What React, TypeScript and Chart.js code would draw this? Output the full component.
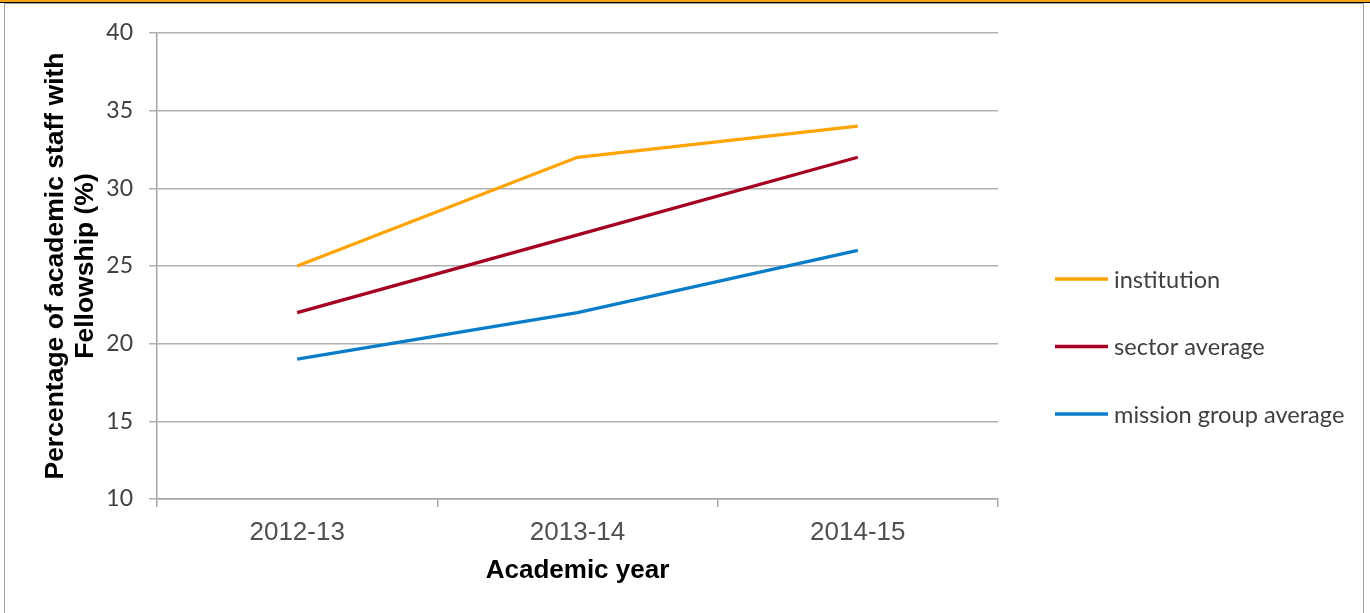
import React, { useEffect, useRef } from 'react';
import { Chart, registerables } from 'chart.js';

Chart.register(...registerables);

const categories = ['2012-13', '2013-14', '2014-15'];
const institution = [25, 32, 34];
const sectorAverage = [22, 27, 32];
const missionGroupAverage = [19, 22, 26];
const seriesLabels = ['institution', 'sector average', 'mission group average'];
const seriesColors = ['#FFA300', '#A50021', '#0A7DC8'];
const yTicks = [10, 15, 20, 25, 30, 35, 40];
const yTitle = ['Percentage of academic staff with', 'Fellowship (%)'];
const xTitle = 'Academic year';

const lineLegend = {
  id: 'lineLegend',
  afterDraw(chart: any, _args: any, opts: any) {
    const ctx = chart.ctx;
    ctx.save();
    chart.data.datasets.forEach((ds: any, i: number) => {
      const y = opts.top + i * opts.gap;
      ctx.strokeStyle = ds.borderColor;
      ctx.lineWidth = opts.lineWidth;
      ctx.beginPath();
      ctx.moveTo(opts.x, y);
      ctx.lineTo(opts.x + opts.len, y);
      ctx.stroke();
      ctx.fillStyle = opts.color;
      ctx.font = opts.font;
      ctx.textBaseline = 'middle';
      ctx.textAlign = 'left';
      ctx.fillText(ds.label, opts.x + opts.len + opts.textGap, y + 1);
    });
    ctx.restore();
  },
};

export default function App() {
  const ref = useRef<HTMLCanvasElement | null>(null);

  useEffect(() => {
    if (!ref.current) return;
    const seriesValues = [institution, sectorAverage, missionGroupAverage];
    const chart = new Chart(ref.current, {
      type: 'line',
      data: {
        labels: categories,
        datasets: seriesValues.map((values, i) => ({
          label: seriesLabels[i],
          data: values,
          borderColor: seriesColors[i],
          backgroundColor: seriesColors[i],
          borderWidth: 3.3,
          pointRadius: 0,
          pointHoverRadius: 0,
          tension: 0,
          fill: false,
        })),
      },
      options: {
        animation: false,
        responsive: false,
        maintainAspectRatio: false,
        layout: { padding: { top: 33, right: 372, bottom: 0, left: 0 } },
        plugins: {
          legend: { display: false },
          tooltip: { enabled: false },
          lineLegend: {
            x: 1055,
            len: 53,
            textGap: 6,
            top: 279,
            gap: 67.5,
            lineWidth: 3.5,
            color: '#404040',
            font: '23.6px Lato',
          },
        } as any,
        scales: {
          x: {
            type: 'category',
            offset: true,
            afterFit: (s: any) => {
              s.height = 114;
            },
            grid: {
              display: true,
              offset: true,
              drawOnChartArea: false,
              drawTicks: true,
              tickLength: 8,
              color: '#A6A6A6',
              lineWidth: 1.5,
            },
            border: { display: true, color: '#A6A6A6', width: 1.5 },
            ticks: {
              color: '#505050',
              padding: 10,
              font: { family: '"Liberation Sans", Arial, sans-serif', size: 26 },
              maxRotation: 0,
            },
            title: {
              display: true,
              text: xTitle,
              color: '#000000',
              font: { family: '"Liberation Sans", Arial, sans-serif', size: 26, weight: 'bold', lineHeight: 1.2 },
              padding: { top: 0, bottom: 27 },
            },
          },
          y: {
            type: 'linear',
            min: yTicks[0],
            max: yTicks[yTicks.length - 1],
            afterFit: (s: any) => {
              s.width = 157;
            },
            afterBuildTicks: (s: any) => {
              s.ticks = yTicks.map((v) => ({ value: v }));
            },
            grid: {
              display: true,
              drawTicks: true,
              tickLength: 8,
              color: '#B0B0B0',
              lineWidth: 1.5,
            },
            border: { display: true, color: '#A6A6A6', width: 1.5 },
            ticks: {
              color: '#404040',
              padding: 16,
              font: { family: 'Lato, sans-serif', size: 23 },
            },
            title: {
              display: true,
              text: yTitle,
              color: '#000000',
              font: { family: '"Liberation Sans", Arial, sans-serif', size: 26.5, weight: 'bold', lineHeight: '30px' },
              padding: { top: 41, bottom: 0 },
            },
          },
        },
      },
      plugins: [lineLegend],
    } as any);
    return () => chart.destroy();
  }, []);

  return (
    <div style={{ position: 'absolute', left: 0, top: 0, width: 1370, height: 613, background: '#ffffff', overflow: 'hidden' }}>
      <div style={{ position: 'absolute', left: 0, top: 0, width: 1370, height: 2, background: '#F7A11A', borderBottom: '1px solid #000' }} />
      <div style={{ position: 'absolute', left: 4, top: 3, width: 1360, height: 640, border: '1px solid #A0A0A0', boxSizing: 'border-box' }} />
      <canvas ref={ref} width={1370} height={613} style={{ position: 'absolute', left: 0, top: 0 }} />
    </div>
  );
}
